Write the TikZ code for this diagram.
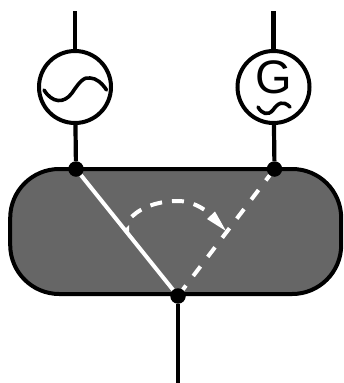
\documentclass[tikz,border=0pt]{standalone}
\usepackage{fontspec}
\setmainfont{Liberation Sans}
\tikzset{
  x=1pt,y=-1pt,
  wire/.style={draw=black,line width=4.2pt},
  source/.style={circle,draw=black,line width=4pt,fill=white,minimum size=72pt,inner sep=0pt},
  junction/.style={circle,fill=black,minimum size=15.5pt,inner sep=0pt},
  wave/.style={draw=black,line width=3.6pt,line cap=round},
  contact/.style={draw=white,line width=4pt},
  sweep/.style={draw=white,line width=4pt},
}
\begin{document}
\begin{tikzpicture}
\useasboundingbox (0,0) rectangle (343,383);
\node[draw=black,line width=4pt,fill=black!60,rounded corners=49pt,minimum width=331pt,minimum height=125pt,inner sep=0pt] (bus) at (175.7,231.5) {};
\node[source] (ac) at (75,87) {};
\node[source] (gen) at (273.5,87) {};
\node[junction] (ja) at (76,169) {};
\node[junction] (jb) at (274.5,169) {};
\node[junction] (jc) at (178,296) {};
\coordinate (ta) at (75,11);
\coordinate (tb) at (273.5,11);
\coordinate (tc) at (178,383);
\draw[wire] (ta) -- (ac);
\draw[wire] (tb) -- (gen);
\draw[wire] (ac) -- (ja);
\draw[wire] (gen) -- (jb);
\draw[wire] (jc) -- (tc);
\node[font=\fontsize{47pt}{47pt}\selectfont,inner sep=0pt] (glyph) at (273.8,77.5) {G};
\draw[wave] (44,90) .. controls (52,103) and (64,104) .. (72,93) .. controls (80,81) and (84,77) .. (90,78) .. controls (96,78) and (102,83) .. (106.5,90);
\draw[wave] (258,107) .. controls (262,114) and (268,116) .. (273,110) .. controls (278,103) and (283,100) .. (290,107);
\draw[contact] (ja) -- (jc);
\draw[sweep,dash pattern=on 12pt off 12pt,dash phase=6.8pt] (jc) -- (jb);
\draw[sweep,dash pattern=on 12pt off 10pt] (131.7,216.7) .. controls (143,206) and (160,201) .. (178,201) .. controls (190,201) and (203,207) .. (212,216);
\fill[white] (226,231) -- (207,219) -- (215,211.5) -- cycle;
\fill[white] (125,229) -- (129,225) -- (129,232) -- cycle;
\end{tikzpicture}
\end{document}
